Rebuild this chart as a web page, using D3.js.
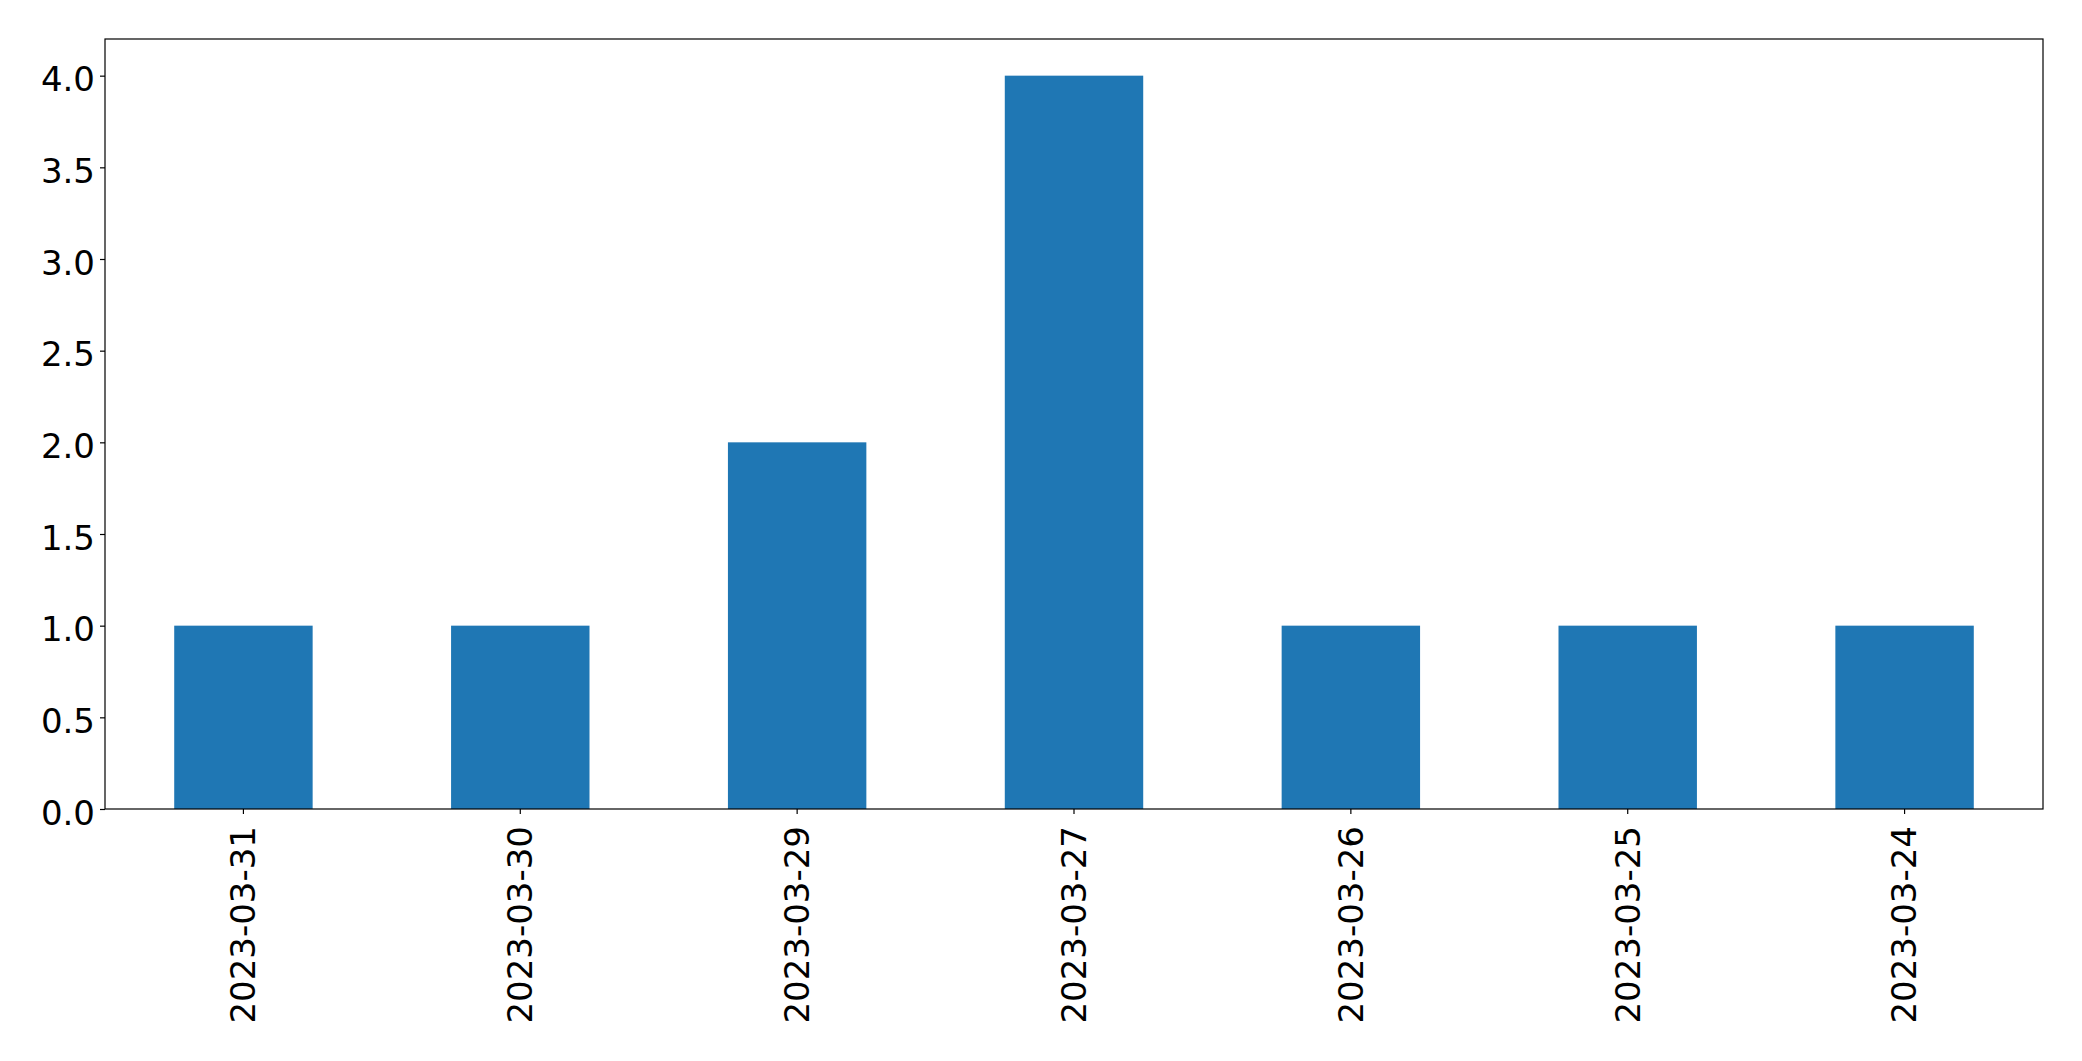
<!DOCTYPE html>
<html><head><meta charset="utf-8">
<script src="https://cdn.jsdelivr.net/npm/d3@7"></script>
<style>html,body{margin:0;padding:0;background:#fff;}svg{display:block;}</style>
</head><body>
<script>
const categories = ["2023-03-31","2023-03-30","2023-03-29","2023-03-27","2023-03-26","2023-03-25","2023-03-24"];
const values = [1, 1, 2, 4, 1, 1, 1];
const yTicks = [0, 0.5, 1.0, 1.5, 2.0, 2.5, 3.0, 3.5, 4.0];

const W = 2082, H = 1061;
const m = {left: 105, right: 2043, top: 39, bottom: 809};
const svg = d3.select("body").append("svg").attr("width", W).attr("height", H);

const x = d3.scaleBand().domain(categories).range([m.left, m.right]).paddingInner(0.5).paddingOuter(0.25);
const y = d3.scaleLinear().domain([0, 4.2]).range([m.bottom, m.top]);

svg.append("g").selectAll("rect").data(values).join("rect")
  .attr("x", (d,i) => x(categories[i]))
  .attr("width", x.bandwidth())
  .attr("y", d => y(d))
  .attr("height", d => y(0) - y(d))
  .attr("fill", "#1f77b4");

const font = "DejaVu Sans, sans-serif";
const yAxis = svg.append("g").attr("transform", `translate(${m.left},0)`)
  .call(d3.axisLeft(y).tickValues(yTicks).tickFormat(d3.format(".1f")).tickSize(5).tickPadding(5));
yAxis.select(".domain").remove();
yAxis.selectAll("text").attr("font-family", font).attr("font-size", 34).attr("fill", "#000").attr("dy", "0.45em");
yAxis.selectAll("line").attr("stroke", "#000").attr("stroke-width", 1.2);

const xAxis = svg.append("g").attr("transform", `translate(0,${m.bottom})`)
  .call(d3.axisBottom(x).tickSize(5).tickPadding(12));
xAxis.select(".domain").remove();
xAxis.selectAll("line").attr("stroke", "#000").attr("stroke-width", 1.2);
xAxis.selectAll("text").attr("font-family", font).attr("font-size", 34).attr("fill", "#000")
  .attr("text-anchor", "end").attr("transform", "rotate(-90)")
  .attr("x", -17).attr("y", 0).attr("dy", "0.35em");

svg.append("rect").attr("x", m.left).attr("y", m.top).attr("width", m.right - m.left).attr("height", m.bottom - m.top)
  .attr("fill", "none").attr("stroke", "#000").attr("stroke-width", 1.2);
</script>
</body></html>
